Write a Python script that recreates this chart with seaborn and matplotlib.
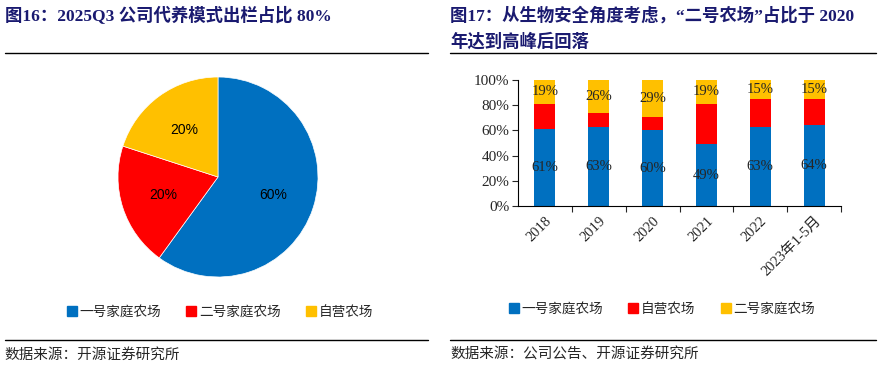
import numpy as np
import pandas as pd
import matplotlib
matplotlib.use("Agg")
import matplotlib.pyplot as plt
from matplotlib.lines import Line2D
import seaborn as sns

# left: pie
pie_labels = ["一号家庭农场", "二号家庭农场", "自营农场"]
pie_values = [60, 20, 20]

# right: stacked bars
years = ["2018", "2019", "2020", "2021", "2022", "2023年1-5月"]
farm_one = [61, 63, 60, 49, 63, 64]       # 一号家庭农场
self_run = [20, 11, 11, 32, 22, 21]       # 自营农场
farm_two = [19, 26, 29, 19, 15, 15]       # 二号家庭农场
bar_names = ["一号家庭农场", "自营农场", "二号家庭农场"]

BLUE, RED, YELLOW = "#0070C0", "#FF0000", "#FFC000"
NAVY = "#1a1a70"

sns.set_theme(style="white")
plt.rcParams["font.family"] = ["Liberation Serif", "Noto Sans CJK SC", "DejaVu Sans"]
plt.rcParams["axes.unicode_minus"] = False

W, H = 890, 369
fig = plt.figure(figsize=(W / 100, H / 100), dpi=100)


def px_box(x0, y0, x1, y1):
    return [x0 / W, 1 - y1 / H, (x1 - x0) / W, (y1 - y0) / H]


def hline(x0, x1, y, lw=1.0):
    fig.add_artist(Line2D([x0 / W, x1 / W], [1 - y / H, 1 - y / H],
                          color="black", lw=lw, transform=fig.transFigure))


title_font = dict(family=["Liberation Serif", "Noto Sans CJK SC"], fontweight="bold",
                  color=NAVY, fontsize=12.5)
cjk_font = ["Noto Sans CJK SC", "DejaVu Sans"]

# titles
fig.text(5 / W, 1 - 16 / H, "图16：2025Q3 公司代养模式出栏占比 80%", va="center", ha="left", **title_font)
fig.text(450 / W, 1 - 16 / H, "图17：从生物安全角度考虑，“二号农场”占比于 2020",
         va="center", ha="left", **title_font)
fig.text(450 / W, 1 - 42 / H, "年达到高峰后回落", va="center", ha="left", **title_font)
hline(5, 428, 53)
hline(450, 876, 53)
hline(5, 428, 340)
hline(450, 876, 340)

fig.text(4 / W, 1 - 355 / H, "数据来源：开源证券研究所", va="center", ha="left",
         family=cjk_font, fontsize=10.5)
fig.text(450 / W, 1 - 355 / H, "数据来源：公司公告、开源证券研究所", va="center", ha="left",
         family=cjk_font, fontsize=10.5)

# pie
ax1 = fig.add_axes(px_box(117, 76, 319, 278))
ax1.pie(pie_values, colors=[BLUE, RED, YELLOW], startangle=90, counterclock=False,
        autopct="%d%%", pctdistance=0.58,
        wedgeprops=dict(edgecolor="white", linewidth=0.5),
        textprops=dict(family=["Liberation Sans"], fontsize=10, color="black"))
ax1.set_xlim(-1.01, 1.01)
ax1.set_ylim(-1.01, 1.01)
ax1.set_aspect("equal")

h1 = [Line2D([], [], marker="s", ls="", color=c, markersize=6.5) for c in [BLUE, RED, YELLOW]]
fig.legend(h1, pie_labels, loc="center", bbox_to_anchor=(220 / W, 1 - 312 / H), ncol=3,
           frameon=False, prop=dict(family=cjk_font, size=9.8), handlelength=0.7,
           handletextpad=0.2, columnspacing=1.9)

# stacked bars
ax2 = fig.add_axes(px_box(518, 80, 841, 206))
df = pd.DataFrame({"year": years, "one": farm_one, "self": self_run, "two": farm_two})
df["top_self"] = df["one"] + df["self"]
df["top_two"] = df["top_self"] + df["two"]

for col, color in [("top_two", YELLOW), ("top_self", RED), ("one", BLUE)]:
    sns.barplot(data=df, x="year", y=col, color=color, width=0.39, saturation=1,
                linewidth=0, ax=ax2)

for i, row in df.iterrows():
    ax2.text(i, row["one"] / 2, f"{row['one']}%", ha="center", va="center",
             fontsize=10.5, family="Liberation Serif")
    ax2.text(i, row["top_self"] + row["two"] / 2, f"{row['two']}%", ha="center",
             va="center", fontsize=10.5, family="Liberation Serif")

ax2.set_xlim(-0.5, len(years) - 0.5)
ax2.set_ylim(0, 100)
ax2.set_yticks(np.arange(0, 101, 20))
ax2.set_yticklabels([f"{v}%" for v in range(0, 101, 20)], fontsize=11)
ax2.set_xlabel("")
ax2.set_ylabel("")
ax2.set_xticks(range(len(years)))
ax2.set_xticklabels(years, rotation=45, ha="right", va="top", rotation_mode="anchor",
                    fontsize=10.5)
ax2.set_xticks(np.arange(0.5, len(years), 1), minor=True)
ax2.tick_params(axis="x", which="major", length=0, pad=6)
ax2.tick_params(axis="x", which="minor", length=4, direction="out", width=0.8, bottom=True)
ax2.tick_params(axis="y", length=4, direction="out", width=0.8, left=True, pad=2)
for side in ["top", "right"]:
    ax2.spines[side].set_visible(False)
for side in ["left", "bottom"]:
    ax2.spines[side].set_color("black")
    ax2.spines[side].set_linewidth(0.8)

h2 = [Line2D([], [], marker="s", ls="", color=c, markersize=6.5) for c in [BLUE, RED, YELLOW]]
fig.legend(h2, bar_names, loc="center", bbox_to_anchor=(662 / W, 1 - 309 / H), ncol=3,
           frameon=False, prop=dict(family=cjk_font, size=9.8), handlelength=0.7,
           handletextpad=0.2, columnspacing=1.9)

fig.savefig("out.png", dpi=100)
